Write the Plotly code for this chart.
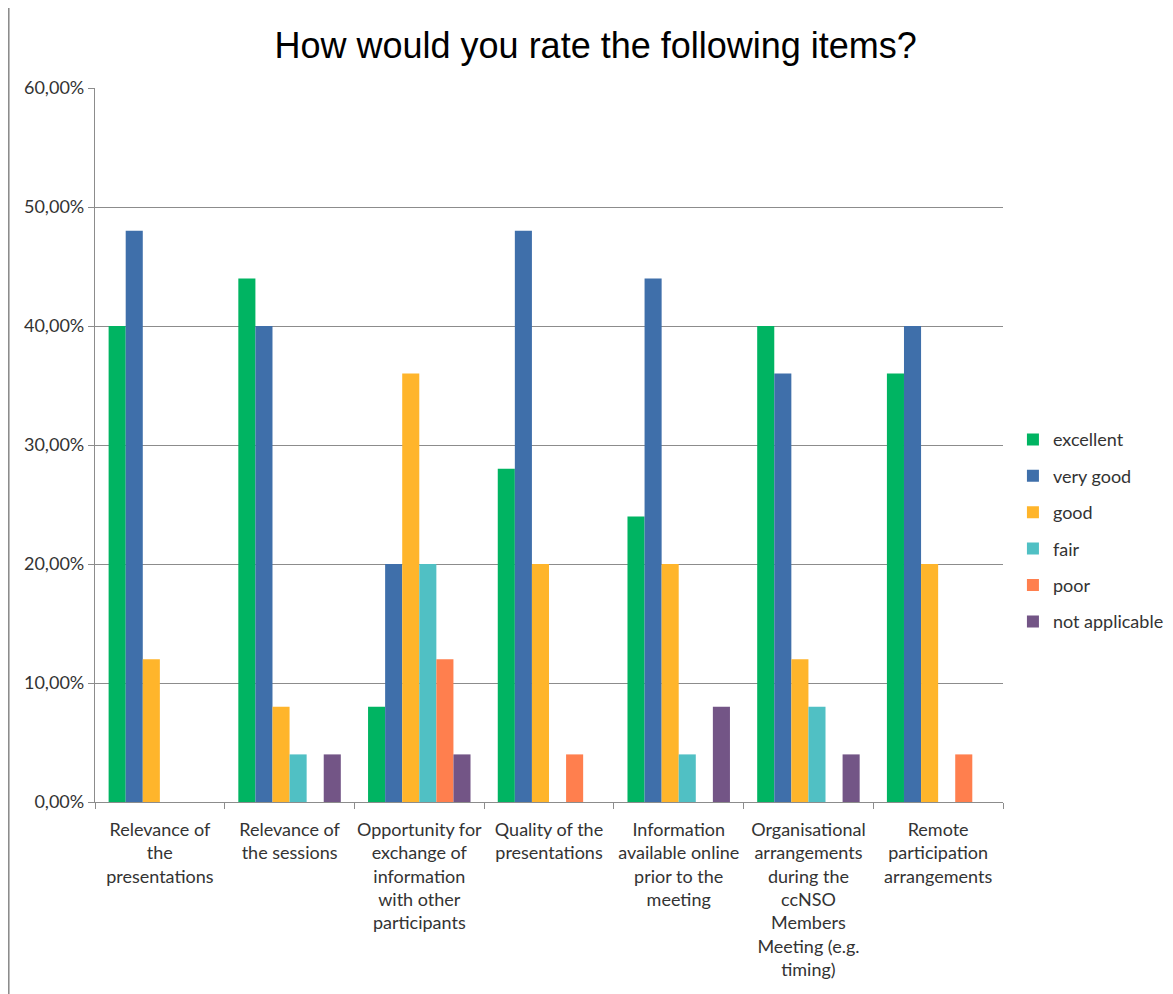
import plotly.graph_objects as go

categories = [
    "Relevance of<br>the<br>presentations",
    "Relevance of<br>the sessions",
    "Opportunity for<br>exchange of<br>information<br>with other<br>participants",
    "Quality of the<br>presentations",
    "Information<br>available online<br>prior to the<br>meeting",
    "Organisational<br>arrangements<br>during the<br>ccNSO<br>Members<br>Meeting (e.g.<br>timing)",
    "Remote<br>participation<br>arrangements",
]
series_names = ["excellent", "very good", "good", "fair", "poor", "not applicable"]
excellent = [0.40, 0.44, 0.08, 0.28, 0.24, 0.40, 0.36]
very_good = [0.48, 0.40, 0.20, 0.48, 0.44, 0.36, 0.40]
good = [0.12, 0.08, 0.36, 0.20, 0.20, 0.12, 0.20]
fair = [0.0, 0.04, 0.20, 0.0, 0.04, 0.08, 0.0]
poor = [0.0, 0.0, 0.12, 0.04, 0.0, 0.0, 0.04]
not_applicable = [0.0, 0.04, 0.04, 0.0, 0.08, 0.04, 0.0]
colors = ["#00B462", "#3F6FAA", "#FFB52B", "#50C0C4", "#FF7F4E", "#735586"]

all_values = [excellent, very_good, good, fair, poor, not_applicable]

fig = go.Figure()
for name, vals, col in zip(series_names, all_values, colors):
    fig.add_trace(go.Bar(
        x=categories, y=vals, name=name, marker_color=col,
        marker_line_width=0, legendgroup=name,
    ))

L, R, T, B = 87, 172, 80, 200
pw = 1173 - L - R
fig.update_layout(
    width=1173, height=994,
    paper_bgcolor="white", plot_bgcolor="white",
    separators=",.",
    barmode="group", bargap=0.21, bargroupgap=0,
    margin=dict(l=L, r=R, t=T, b=B),
    title=dict(text="How would you rate the following items?", x=0.501, xanchor="center",
               xref="container", y=1 - 37 / 994, yanchor="middle",
               font=dict(family="Liberation Sans, Arial", size=36, color="#000000")),
    font=dict(family="Lato, Open Sans, sans-serif", size=18, color="#333333"),
    legend=dict(x=(1011 - L) / pw, xanchor="left", y=0.38, yanchor="middle",
                font=dict(size=18, color="#333333"), tracegroupgap=10,
                itemwidth=30),
    showlegend=True,
)
fig.update_yaxes(range=[0, 0.6], dtick=0.1, tickformat=".2%",
                 showgrid=True, gridcolor="#8C8C8C", gridwidth=1.3,
                 showline=True, linecolor="#8C8C8C", linewidth=1.3,
                 ticks="outside", ticklen=6, tickcolor="#8C8C8C",
                 tickfont=dict(size=18, color="#333333"), zeroline=False)
fig.update_xaxes(showline=True, linecolor="#8C8C8C", linewidth=1.3,
                 ticks="outside", tickson="boundaries", ticklen=6, tickcolor="#8C8C8C",
                 tickangle=0, ticklabelstandoff=11,
                 tickfont=dict(size=18, color="#333333"))

fig.add_shape(type="line", xref="paper", yref="paper",
              x0=(0 - L) / pw, x1=(0 - L) / pw, y0=-0.5, y1=1.5,
              line=dict(color="#8C8C8C", width=2))

fig.write_html("out.html")
